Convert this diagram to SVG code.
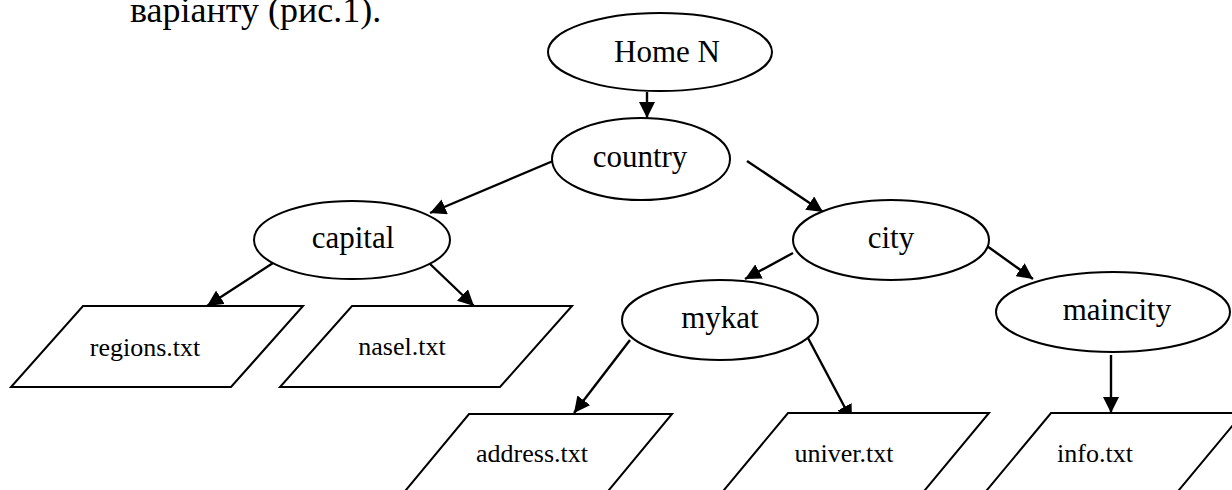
<svg xmlns="http://www.w3.org/2000/svg" width="1232" height="490" viewBox="0 0 1232 490">
<style>
.shape{fill:#fff;stroke:#000;stroke-width:2}
.edge{stroke:#000;stroke-width:2.4;fill:none;marker-end:url(#arr)}
.lbl{font-family:"Liberation Serif","Times New Roman",serif;font-size:31px;fill:#000;text-anchor:middle}
.flbl{font-family:"Liberation Serif","Times New Roman",serif;font-size:26px;fill:#000;text-anchor:middle}
.hdr{font-family:"Liberation Serif","Times New Roman",serif;font-size:36px;fill:#000}
</style>
<defs>
<marker id="arr" markerUnits="userSpaceOnUse" markerWidth="18" markerHeight="16" refX="16" refY="8" orient="auto">
<path d="M0,0 L16,8 L0,16 Z" fill="#000"/>
</marker>
</defs>
<rect width="1232" height="490" fill="#fff"/>
<text class="hdr" x="130" y="22">варіанту (рис.1).</text>
<g id="connectors">
<line class="edge" x1="647" y1="92" x2="647" y2="118"/>
<line class="edge" x1="553" y1="161" x2="430" y2="213"/>
<line class="edge" x1="747" y1="161" x2="823" y2="212"/>
<line class="edge" x1="273" y1="263" x2="207" y2="306"/>
<line class="edge" x1="429" y1="263" x2="474" y2="306"/>
<line class="edge" x1="793" y1="253" x2="745" y2="279"/>
<line class="edge" x1="987" y1="246" x2="1033" y2="279"/>
<line class="edge" x1="630" y1="340" x2="574" y2="413"/>
<line class="edge" x1="808" y1="338" x2="852" y2="421"/>
<line class="edge" x1="1111" y1="355" x2="1111" y2="413"/>
</g>
<g id="home">
<ellipse class="shape" cx="660" cy="52" rx="112" ry="39"/>
<text class="lbl" x="667" y="62">Home N</text>
</g>
<g id="country">
<ellipse class="shape" cx="641" cy="159" rx="89" ry="41"/>
<text class="lbl" x="640" y="167">country</text>
</g>
<g id="capital">
<ellipse class="shape" cx="352" cy="240" rx="98" ry="39"/>
<text class="lbl" x="353" y="248">capital</text>
</g>
<g id="city">
<ellipse class="shape" cx="891" cy="240" rx="98" ry="40"/>
<text class="lbl" x="891" y="248">city</text>
</g>
<g id="mykat">
<ellipse class="shape" cx="720" cy="320" rx="98" ry="40"/>
<text class="lbl" x="720" y="328">mykat</text>
</g>
<g id="maincity">
<ellipse class="shape" cx="1113" cy="312" rx="117" ry="40"/>
<text class="lbl" x="1117" y="320">maincity</text>
</g>
<g id="regions">
<polygon class="shape" points="83,306 303,306 231,387 11,387"/>
<text class="flbl" x="145" y="356">regions.txt</text>
</g>
<g id="nasel">
<polygon class="shape" points="352,306 572,306 500,387 280,387"/>
<text class="flbl" x="402" y="355">nasel.txt</text>
</g>
<g id="address">
<polygon class="shape" points="469,414 672,414 604,496 401,496"/>
<text class="flbl" x="532" y="462">address.txt</text>
</g>
<g id="univer">
<polygon class="shape" points="788,413 989,413 920,496 719,496"/>
<text class="flbl" x="844" y="462">univer.txt</text>
</g>
<g id="info">
<polygon class="shape" points="1051,413 1243,413 1174,496 982,496"/>
<text class="flbl" x="1095" y="462">info.txt</text>
</g>
</svg>
